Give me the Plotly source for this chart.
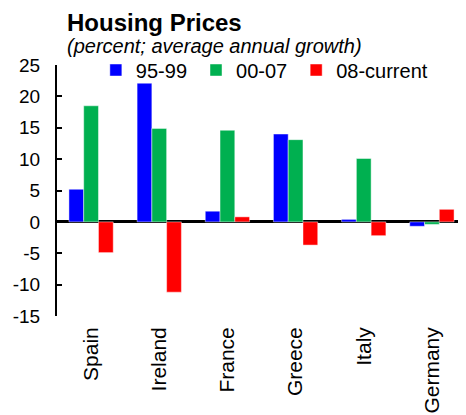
import plotly.graph_objects as go

countries = ["Spain", "Ireland", "France", "Greece", "Italy", "Germany"]
s95_99 = [5.2, 22.1, 1.7, 14.0, 0.4, -0.7]
s00_07 = [18.5, 14.9, 14.6, 13.1, 10.1, -0.4]
s08_cur = [-4.9, -11.2, 0.8, -3.7, -2.2, 2.0]
series_names = ["95-99", "00-07", "08-current"]
colors = ["#0000FF", "#00B050", "#FF0000"]
y_ticks = [-15, -10, -5, 0, 5, 10, 15, 20, 25]
title_text = "Housing Prices"
subtitle_text = "(percent; average annual growth)"

FONT = "Liberation Sans, Arial, sans-serif"

fig = go.Figure()
for i, (name, vals, col) in enumerate(zip(series_names, [s95_99, s00_07, s08_cur], colors)):
    label = name + ("\u2009" if i < 2 else "")
    fig.add_trace(go.Bar(
        x=countries, y=vals, name=label,
        marker=dict(color=col, line=dict(color="rgba(255,255,255,0.45)", width=1)),
    ))

fig.update_layout(
    width=458, height=407,
    margin=dict(l=49, r=0, t=57, b=99, autoexpand=False),
    paper_bgcolor="white", plot_bgcolor="white",
    barmode="group", bargap=0.35, bargroupgap=0,
    font=dict(family=FONT, color="black", size=18),
    showlegend=True,
    legend=dict(
        orientation="h", x=0.095, xanchor="left", y=0.98, yanchor="middle",
        font=dict(size=20), bgcolor="rgba(0,0,0,0)", itemwidth=30,
    ),
    xaxis=dict(
        showline=False, showgrid=False, ticks="", tickangle=-90,
        tickfont=dict(size=21), zeroline=False, automargin=False,
        ticklabelstandoff=6,
    ),
    yaxis=dict(
        range=[-15, 25], tickvals=y_ticks, ticktext=[str(v) for v in y_ticks],
        showgrid=False, showline=True, linecolor="black", linewidth=2,
        ticks="inside", ticklen=5, tickwidth=2, tickcolor="black",
        zeroline=True, zerolinecolor="black", zerolinewidth=2.5,
        tickfont=dict(size=19), ticklabelstandoff=11, automargin=False,
    ),
    annotations=[
        dict(text=(f"<span style='font-size:24px'><b>{title_text}</b></span><br>"
                   f"<span style='font-size:20px'><i>{subtitle_text}</i></span>"),
             xref="paper", yref="paper", align="left",
             x=0.022, y=1.227, xanchor="left", yanchor="top", borderpad=0,
             showarrow=False, font=dict(size=17, family=FONT)),
    ],
)

fig.write_html("out.html")
